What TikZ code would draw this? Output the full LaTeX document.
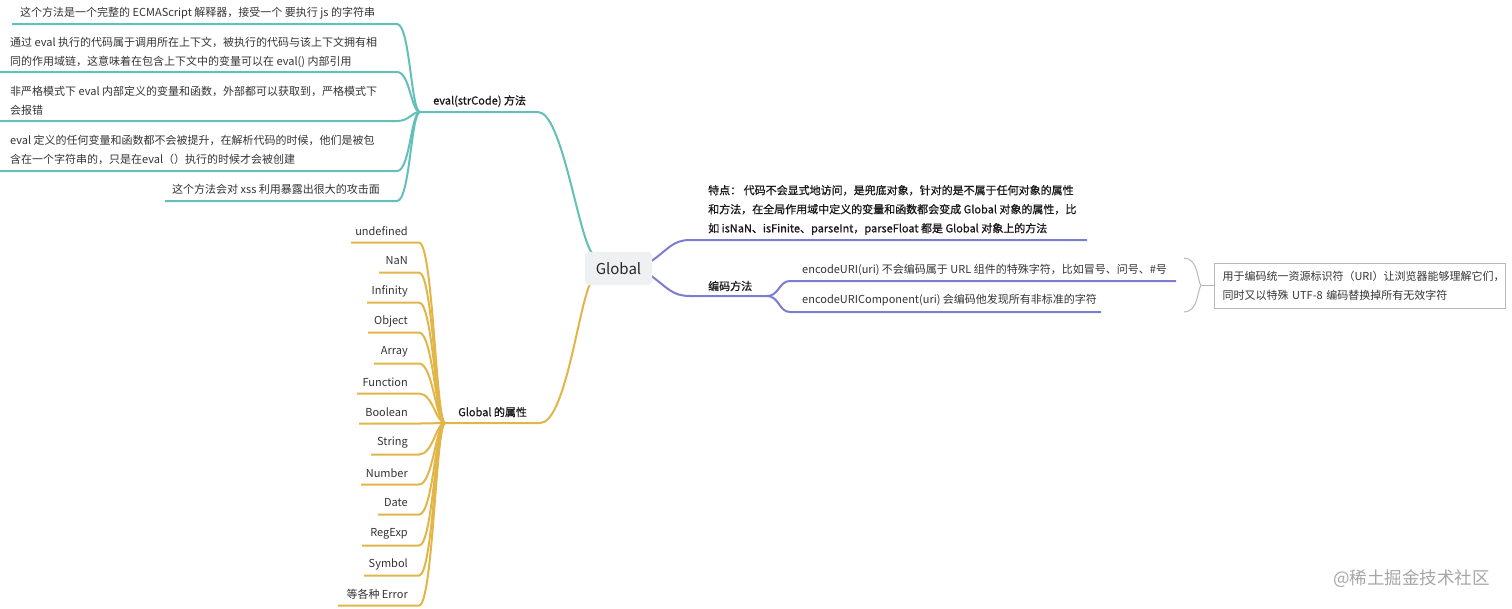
\documentclass[tikz,border=0pt]{standalone}
\usepackage{fontspec}
\setmainfont{Noto Sans CJK SC}
\newfontfamily\medfont{Noto Sans CJK SC}[FakeBold=0.9]
\definecolor{tealc}{HTML}{62C0B8}
\definecolor{purp}{HTML}{7B7DD1}
\definecolor{goldc}{HTML}{E2B548}
\definecolor{txt}{HTML}{333333}
\definecolor{gbox}{HTML}{EEF0F1}
\definecolor{brc}{HTML}{B8B8B8}
\begin{document}
\begin{tikzpicture}[x=1pt,y=-1pt,
  tx/.style={inner sep=0pt, font=\fontsize{11}{19}\selectfont, text=txt, align=left},
  lb/.style={tx, font=\fontsize{11}{19}\selectfont\medfont, text=black!90},
  tl/.style={draw=tealc, line width=2pt},
  pl/.style={draw=purp, line width=2pt},
  gl/.style={draw=goldc, line width=2pt}]
\useasboundingbox (0,0) rectangle (1512,608);

% ---------- junctions ----------
\coordinate (ej) at (420,112);
\coordinate (gj) at (445,423);
\coordinate (ee) at (538,112);
\coordinate (ge) at (540,423);
\coordinate (gT) at (592,253);
\coordinate (gB) at (590,284);
\coordinate (gR1) at (650,262);
\coordinate (gR2) at (650,275);
\coordinate (fs) at (690,240);
\coordinate (fe) at (1087,240);
\coordinate (bs) at (690,296);
\coordinate (bj) at (767,296);

% ---------- eval branch ----------
\draw[tl] (ej) -- (ee) .. controls (562,112) and (578,235) .. (gT);
\node[lb, anchor=west] (evl) at (433,101) {eval(strCode) 方法};

\node[tx, anchor=west] (e1) at (20,13) {这个方法是一个完整的 ECMAScript 解释器，接受一个 要执行 js 的字符串};
\node[tx, anchor=west] (e2) at (10,52) {通过 eval 执行的代码属于调用所在上下文，被执行的代码与该上下文拥有相\\同的作用域链，这意味着在包含上下文中的变量可以在 eval() 内部引用};
\node[tx, anchor=west] (e3) at (10,100.5) {非严格模式下 eval 内部定义的变量和函数，外部都可以获取到，严格模式下\\会报错};
\node[tx, anchor=west] (e4) at (10,150) {eval 定义的任何变量和函数都不会被提升，在解析代码的时候，他们是被包\\含在一个字符串的，只是在eval（）执行的时候才会被创建};
\node[tx, anchor=west] (e5) at (172,189) {这个方法会对 xss 利用暴露出很大的攻击面};

\foreach \n/\xs/\yy in {1/12/24, 2/0/72, 3/0/121, 4/0/171, 5/165/201} {
  \coordinate (e\n s) at (\xs,\yy);
  \coordinate (e\n e) at (397,\yy);
  \draw[tl] (e\n s) -- (e\n e) .. controls (410,\yy) and (411,112) .. (ej);
}

% ---------- gold branch ----------
\draw[gl] (gj) -- (ge) .. controls (565,423) and (578,310) .. (gB);
\node[lb, anchor=west] (gpl) at (458,412) {Global 的属性};

\foreach \n/\t/\xs/\yt in {1/undefined/351/231, 2/NaN/379/261, 3/Infinity/367/291, 4/Object/368/321,
  5/Array/374/352, 6/Function/357/382, 7/Boolean/359/412, 8/String/371/443, 9/Number/361/473,
  10/Date/378/503, 11/RegExp/362/534, 12/Symbol/364/564, 13/等各种 Error/338/594} {
  \node[tx, anchor=east] (g\n) at (408,\yt) {\t};
  \coordinate (g\n s) at (\xs,\yt+11.5);
  \coordinate (g\n e) at (419,\yt+11.5);
  \draw[gl] (g\n s) -- (g\n e) .. controls (433,\yt+11.5) and (436,423) .. (gj);
}

% ---------- purple branch ----------
\draw[pl] (gR1) .. controls (668,250) and (672,240) .. (fs) -- (fe);
\node[lb, anchor=west] (fp) at (708,210) {特点： 代码不会显式地访问，是兜底对象，针对的是不属于任何对象的属性\\和方法，在全局作用域中定义的变量和函数都会变成 Global 对象的属性，比\\如 isNaN、isFinite、parseInt，parseFloat 都是 Global 对象上的方法};

\draw[pl] (gR2) .. controls (668,288) and (672,296) .. (bs) -- (bj);
\node[lb, anchor=west] (bm) at (708,286) {编码方法};

\coordinate (u1s) at (790,281);
\coordinate (u1e) at (1176,281);
\coordinate (u2s) at (790,312);
\coordinate (u2e) at (1101,312);
\draw[pl] (bj) .. controls (779,296) and (779,281) .. (u1s) -- (u1e);
\draw[pl] (bj) .. controls (779,296) and (779,312) .. (u2s) -- (u2e);
\node[tx, anchor=west] (u1) at (802,270) {encodeURI(uri) 不会编码属于 URL 组件的特殊字符，比如冒号、问号、\#号};
\node[tx, anchor=west] (u2) at (802,300) {encodeURIComponent(uri) 会编码他发现所有非标准的字符};

% brace + note
\coordinate (bt) at (1184,258);
\coordinate (bb) at (1184,312);
\coordinate (bm2) at (1201,285.5);
\draw[brc, line width=1pt] (bt) .. controls (1199,259) and (1197,281) .. (bm2) .. controls (1197,290) and (1199,311) .. (bb);
\node[tx, draw=brc, line width=1pt, anchor=west, inner xsep=8pt, text width=275pt, minimum height=45pt] (note) at (1214,285.5)
  {用于编码统一资源标识符（URI）让浏览器能够理解它们，\\同时又以特殊 UTF-8 编码替换掉所有无效字符};
\draw[brc, line width=1pt] (bm2) -- (note.west);

% ---------- central node ----------
\node[fill=gbox, rounded corners=4pt, minimum width=67pt, minimum height=33pt, inner sep=0pt,
  font=\fontsize{15}{18}\selectfont, text=black!85] (global) at (618.5,268.5) {Global};

% watermark
\node[inner sep=0pt, font=\fontsize{17.5}{20}\selectfont, text=black!35, anchor=west] (wm) at (1333,579) {@稀土掘金技术社区};
\end{tikzpicture}
\end{document}
